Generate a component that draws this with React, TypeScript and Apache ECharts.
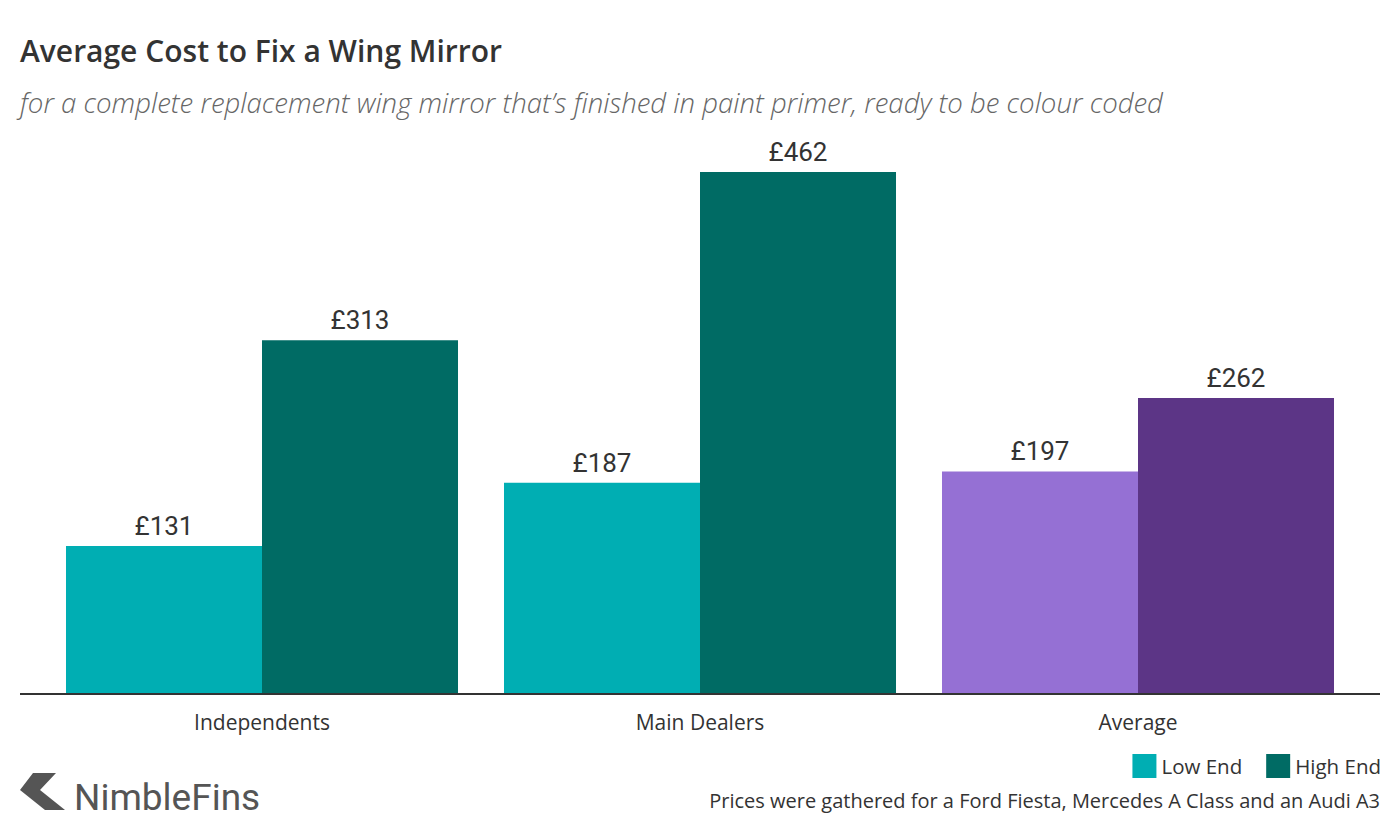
import React, { useEffect, useRef } from "react";
import * as echarts from "echarts";

const categories = ["Independents", "Main Dealers", "Average"];
const lowEnd = [131, 187, 197];
const highEnd = [313, 462, 262];
const lowColors = ["#00AEB3", "#00AEB3", "#9570D4"];
const highColors = ["#006B64", "#006B64", "#5C3586"];
const seriesNames = ["Low End", "High End"];

const FONT = "Roboto, 'Noto Sans', sans-serif";
const WIDE = "'Open Sans', 'Noto Sans', sans-serif";

export default function App() {
  const ref = useRef<HTMLDivElement>(null);
  useEffect(() => {
    if (!ref.current) return;
    const chart = echarts.init(ref.current, null, { renderer: "svg" });
    const mk = (vals: number[], cols: string[]) =>
      vals.map((v, i) => ({ value: v, itemStyle: { color: cols[i] } }));
    const label = {
      show: true,
      position: "top",
      distance: 7,
      fontSize: 26,
      color: "#333",
      fontFamily: FONT,
      formatter: (p: any) => "£" + p.value,
    };
    chart.setOption({
      animation: false,
      backgroundColor: "#fff",
      textStyle: { fontFamily: FONT },
      title: [
        {
          text: "Average Cost to Fix a Wing Mirror",
          left: 20,
          top: 35,
          padding: 0,
          textStyle: { fontSize: 30, fontWeight: 600, color: "#333", fontFamily: WIDE },
        },
        {
          text: "for a complete replacement wing mirror that\u2019s finished in paint primer, ready to be colour coded",
          left: 20,
          top: 88,
          padding: 0,
          textStyle: {
            fontSize: 27.6,
            fontWeight: 300,
            fontStyle: "italic",
            color: "#666",
            fontFamily: WIDE,
          },
        },
      ],
      legend: {
        right: 14,
        top: 749,
        itemWidth: 24,
        itemHeight: 24,
        itemGap: 24,
        itemStyle: { borderWidth: 0 },
        icon: "rect",
        textStyle: { fontSize: 20.5, color: "#333", fontFamily: WIDE },
        data: seriesNames,
      },
      grid: { left: 43, right: 43, top: 129, bottom: 146, containLabel: false },
      xAxis: {
        type: "category",
        data: categories,
        axisLine: { show: false },
        axisTick: { show: false },
        axisLabel: { fontSize: 21, color: "#333", margin: 17, fontFamily: WIDE },
      },
      yAxis: {
        type: "value",
        min: 0,
        max: 500,
        show: false,
        splitLine: { show: false },
      },
      series: [
        {
          name: seriesNames[0],
          type: "bar",
          data: mk(lowEnd, lowColors),
          itemStyle: { color: "#00AEB3" },
          barGap: "0%",
          barCategoryGap: "10.5%",
          label,
        },
        {
          name: seriesNames[1],
          type: "bar",
          data: mk(highEnd, highColors),
          itemStyle: { color: "#006B64" },
          barGap: "0%",
          barCategoryGap: "10.5%",
          label,
        },
      ],
      graphic: [
        {
          type: "line",
          shape: { x1: 20, y1: 694, x2: 1380, y2: 694 },
          style: { stroke: "#333", lineWidth: 2 },
          z: 10,
        },
        {
          type: "polygon",
          shape: {
            points: [
              [33, 773],
              [56, 773],
              [40, 790],
              [65, 810],
              [45, 810],
              [20, 790],
            ],
          },
          style: { fill: "#555" },
        },
        {
          type: "text",
          x: 74,
          y: 797,
          style: {
            text: "NimbleFins",
            fontSize: 37,
            fontWeight: 400,
            fill: "#555",
            fontFamily: FONT,
            verticalAlign: "middle",
          },
        },
        {
          type: "text",
          x: 1380,
          y: 800,
          style: {
            text: "Prices were gathered for a Ford Fiesta, Mercedes A Class and an Audi A3",
            fontSize: 20,
            fill: "#333",
            fontFamily: WIDE,
            align: "right",
            verticalAlign: "middle",
          },
        },
      ],
    });
    return () => chart.dispose();
  }, []);
  return <div ref={ref} style={{ width: 1400, height: 840, margin: -8 }} />;
}
